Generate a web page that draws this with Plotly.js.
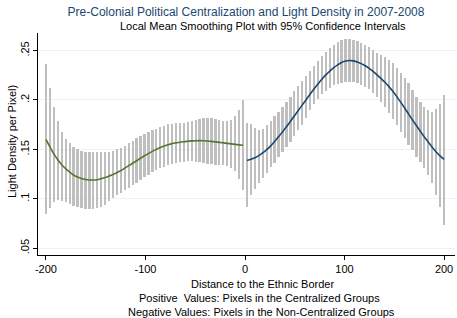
<!DOCTYPE html>
<html>
<head>
<meta charset="utf-8">
<script src="https://cdn.plot.ly/plotly-3.0.1.min.js"></script>
<style>html,body{margin:0;padding:0;background:#fff;}#chart{width:457px;height:318px;}</style>
</head>
<body>
<div id="chart"></div>
<script>
// Distance grid (pixels from the ethnic border)
const distRight = [2,6,9.9,13.9,17.8,21.8,25.8,29.7,33.7,37.6,41.6,45.6,49.5,53.5,57.4,61.4,65.4,69.3,73.3,77.2,81.2,85.2,89.1,93.1,97,101,105,108.9,112.9,116.8,120.8,124.8,128.7,132.7,136.6,140.6,144.6,148.5,152.5,156.4,160.4,164.4,168.3,172.3,176.2,180.2,184.2,188.1,192.1,196,200];
const distLeft = [-200,-196,-192.1,-188.1,-184.2,-180.2,-176.2,-172.3,-168.3,-164.4,-160.4,-156.4,-152.5,-148.5,-144.6,-140.6,-136.6,-132.7,-128.7,-124.8,-120.8,-116.8,-112.9,-108.9,-105,-101,-97,-93.1,-89.1,-85.2,-81.2,-77.2,-73.3,-69.3,-65.4,-61.4,-57.4,-53.5,-49.5,-45.6,-41.6,-37.6,-33.7,-29.7,-25.8,-21.8,-17.8,-13.9,-9.9,-6,-2];

// Non-centralized side (negative distances)
const leftMean = [0.160,0.1525,0.1455,0.1395,0.1345,0.1305,0.127,0.124,0.122,0.1205,0.1195,0.119,0.119,0.1193,0.1203,0.1215,0.123,0.1245,0.1265,0.1285,0.131,0.1335,0.136,0.1385,0.141,0.1435,0.1458,0.148,0.150,0.1518,0.1533,0.1547,0.1558,0.1566,0.1573,0.1578,0.1582,0.1586,0.1588,0.1589,0.1588,0.1585,0.1581,0.1576,0.1571,0.1566,0.1561,0.1556,0.1551,0.1546,0.1541];
const leftUpper = [0.236,0.2125,0.193,0.179,0.168,0.161,0.156,0.1525,0.150,0.1487,0.1477,0.147,0.147,0.147,0.1473,0.1477,0.1478,0.1484,0.150,0.1511,0.1538,0.1562,0.1585,0.1612,0.1636,0.1655,0.1676,0.1693,0.171,0.1725,0.174,0.1754,0.176,0.1764,0.1768,0.177,0.178,0.179,0.180,0.1808,0.1815,0.1818,0.1815,0.1808,0.180,0.1788,0.1786,0.180,0.1835,0.1895,0.200];
const leftLower = [0.085,0.091,0.097,0.099,0.098,0.0965,0.095,0.093,0.092,0.0905,0.0897,0.0894,0.0897,0.0907,0.092,0.094,0.098,0.1005,0.1035,0.106,0.1085,0.111,0.114,0.1163,0.119,0.1216,0.124,0.1268,0.1288,0.1308,0.1325,0.1342,0.1352,0.1359,0.1368,0.1376,0.1383,0.1383,0.1376,0.1369,0.1359,0.1352,0.1349,0.1342,0.1342,0.1345,0.1333,0.1314,0.128,0.1197,0.1085];

// Centralized side (positive distances)
const rightMean = [0.1388,0.1400,0.1416,0.1437,0.1464,0.1497,0.1536,0.1580,0.1627,0.1677,0.1729,0.1783,0.1838,0.1893,0.1948,0.2003,0.2058,0.2111,0.2162,0.2210,0.2254,0.2293,0.2327,0.2356,0.2379,0.2394,0.2400,0.2396,0.2385,0.2368,0.2346,0.232,0.229,0.2255,0.2218,0.2179,0.2135,0.2088,0.2034,0.1978,0.1919,0.1857,0.1798,0.1739,0.1682,0.1626,0.1573,0.1522,0.1474,0.1434,0.140];
const rightUpper = [0.1764,0.176,0.1714,0.1696,0.171,0.175,0.1785,0.1837,0.188,0.193,0.198,0.2035,0.209,0.214,0.219,0.224,0.2295,0.2345,0.2395,0.2445,0.249,0.253,0.256,0.2585,0.2603,0.2613,0.2614,0.2608,0.2597,0.258,0.2557,0.2532,0.2505,0.2478,0.2452,0.2432,0.2405,0.2371,0.2321,0.2276,0.222,0.2169,0.2101,0.2033,0.1983,0.1932,0.1899,0.1882,0.1906,0.196,0.2051];
const rightLower = [0.092,0.1035,0.110,0.116,0.121,0.1265,0.1317,0.1367,0.1418,0.147,0.152,0.1575,0.164,0.1696,0.175,0.1815,0.190,0.196,0.2015,0.206,0.2095,0.2125,0.215,0.2165,0.2177,0.2184,0.2185,0.2179,0.2169,0.2152,0.2135,0.2108,0.2074,0.2033,0.1983,0.1932,0.1865,0.1805,0.1747,0.1679,0.1618,0.1545,0.1494,0.1426,0.1376,0.1309,0.1241,0.1157,0.1039,0.092,0.0735];

const xTickVals = [-200,-100,0,100,200];
const xTickText = ['-200','-100','0','100','200'];
const yTickVals = [0.05,0.1,0.15,0.2,0.25];
const yTickText = ['.05','.1','.15','.2','.25'];

const FONT = 'Liberation Sans, Arial, sans-serif';
const ciColor = '#bfbfbf';

function ciTrace(x, lo, hi) {
  return {
    type: 'bar', x: x, base: lo, y: hi.map((h, i) => h - lo[i]),
    width: 2.3, marker: {color: ciColor, line: {width: 0}},
    hoverinfo: 'skip', showlegend: false
  };
}

const data = [
  ciTrace(distLeft, leftLower, leftUpper),
  ciTrace(distRight, rightLower, rightUpper),
  {type: 'scatter', mode: 'lines', x: distLeft, y: leftMean,
   line: {color: '#55752f', width: 1.6, shape: 'spline'}, showlegend: false},
  {type: 'scatter', mode: 'lines', x: distRight, y: rightMean,
   line: {color: '#1a476f', width: 1.6, shape: 'spline'}, showlegend: false}
];

const layout = {
  width: 457, height: 318,
  margin: {l: 38, r: 2, t: 33, b: 63, pad: 0},
  paper_bgcolor: '#ffffff', plot_bgcolor: '#ffffff',
  barmode: 'overlay', bargap: 0,
  font: {family: FONT, size: 11, color: '#000'},
  title: {text: 'Pre-Colonial Political Centralization and Light Density in 2007-2008',
          font: {family: FONT, size: 12, color: '#1a476f'},
          x: 246/457, xref: 'container', xanchor: 'center',
          y: 1 - 12/318, yref: 'container', yanchor: 'middle'},
  xaxis: {
    range: [-208, 211], showgrid: false, zeroline: false,
    showline: true, linecolor: '#000', linewidth: 1,
    ticks: 'outside', ticklen: 4, tickcolor: '#000', tickwidth: 1,
    tickvals: xTickVals, ticktext: xTickText,
    tickfont: {family: FONT, size: 11, color: '#000'}
  },
  yaxis: {
    range: [0.0431, 0.2678], showgrid: true, gridcolor: '#eaf2f3', gridwidth: 1,
    zeroline: false, showline: true, linecolor: '#000', linewidth: 1,
    ticks: 'outside', ticklen: 4, tickcolor: '#000', tickwidth: 1,
    tickvals: yTickVals, ticktext: yTickText, tickangle: -90,
    tickfont: {family: FONT, size: 11, color: '#000'}
  },
  annotations: [
    {text: 'Local Mean Smoothing Plot with 95% Confidence Intervals',
     xref: 'paper', yref: 'paper', x: (263 - 38) / 417, y: 1 + (33 - 26) / 222,
     xanchor: 'center', yanchor: 'middle', showarrow: false,
     font: {family: FONT, size: 11, color: '#000'}},
    {text: 'Light Density per Pixel)', textangle: -90,
     xref: 'paper', yref: 'paper', x: (12 - 38) / 417, y: (255 - 142) / 222,
     xanchor: 'center', yanchor: 'middle', showarrow: false,
     font: {family: FONT, size: 11, color: '#000'}},
    {text: 'Distance to the Ethnic Border',
     xref: 'paper', yref: 'paper', x: (262 - 38) / 417, y: -(284 - 255) / 222,
     xanchor: 'center', yanchor: 'middle', showarrow: false,
     font: {family: FONT, size: 11, color: '#000'}},
    {text: 'Positive&nbsp; Values: Pixels in the Centralized Groups',
     xref: 'paper', yref: 'paper', x: (259 - 38) / 417, y: -(298 - 255) / 222,
     xanchor: 'center', yanchor: 'middle', showarrow: false,
     font: {family: FONT, size: 11, color: '#000'}},
    {text: 'Negative Values: Pixels in the Non-Centralized Groups',
     xref: 'paper', yref: 'paper', x: (261 - 38) / 417, y: -(312 - 255) / 222,
     xanchor: 'center', yanchor: 'middle', showarrow: false,
     font: {family: FONT, size: 11, color: '#000'}}
  ]
};

Plotly.newPlot('chart', data, layout, {staticPlot: true, displayModeBar: false});
</script>
</body>
</html>
